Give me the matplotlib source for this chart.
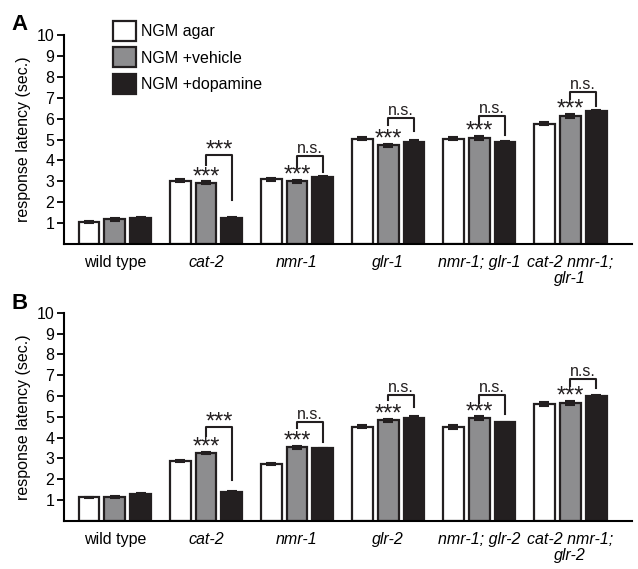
import matplotlib
matplotlib.use("Agg")
import matplotlib.pyplot as plt
import numpy as np

plt.rcParams['font.family'] = ['Liberation Sans', 'DejaVu Sans']

series_names = ["NGM agar", "NGM +vehicle", "NGM +dopamine"]

cats_A = ["wild type", "cat-2", "nmr-1", "glr-1", "nmr-1; glr-1", "cat-2 nmr-1;\nglr-1"]
agar_A = [1.05, 3.04, 3.09, 5.05, 5.05, 5.76]
vehicle_A = [1.18, 2.93, 3.00, 4.72, 5.07, 6.14]
dopamine_A = [1.24, 1.27, 3.20, 4.90, 4.90, 6.35]
err_A = [[0.05, 0.06, 0.06, 0.08, 0.09, 0.08],
         [0.06, 0.07, 0.07, 0.08, 0.09, 0.09],
         [0.04, 0.04, 0.04, 0.07, 0.05, 0.05]]
sig2_A = ["***", "n.s.", "n.s.", "n.s.", "n.s."]

cats_B = ["wild type", "cat-2", "nmr-1", "glr-2", "nmr-1; glr-2", "cat-2 nmr-1;\nglr-2"]
agar_B = [1.12, 2.88, 2.73, 4.52, 4.52, 5.62]
vehicle_B = [1.12, 3.26, 3.53, 4.83, 4.93, 5.66]
dopamine_B = [1.30, 1.37, 3.48, 4.96, 4.73, 6.00]
err_B = [[0.04, 0.04, 0.07, 0.07, 0.09, 0.08],
         [0.05, 0.06, 0.07, 0.07, 0.09, 0.09],
         [0.03, 0.04, 0.04, 0.06, 0.04, 0.05]]
sig2_B = ["***", "n.s.", "n.s.", "n.s.", "n.s."]

# annotation geometry (bracket top, left-leg end, right-leg end)
brk_A = [(4.26, 3.78, 2.10), (4.22, 3.70, 3.45), (6.04, 5.70, 5.40), (6.12, 5.80, 5.20), (7.27, 6.94, 6.60)]
brk_B = [(4.49, 4.09, 1.97), (4.73, 4.47, 3.80), (6.05, 5.80, 5.48), (6.05, 5.68, 5.15), (6.80, 6.47, 6.40)]

colors = ["white", "#8d8d8f", "#231f20"]
W = 0.23
OFF = 0.285
INK = "#231f20"


def draw(ax, cats, vals, errs, sig2, brk, italic_mask):
    x = np.arange(len(cats))
    for i, (v, e, c) in enumerate(zip(vals, errs, colors)):
        ax.bar(x + (i - 1) * OFF, v, W, color=c, edgecolor=INK, linewidth=1.6,
               yerr=e, error_kw=dict(ecolor=INK, elinewidth=2.5, capsize=3.5, capthick=1.5),
               label=series_names[i], zorder=2)
    ax.set_xlim(-0.56, 5.68)
    ax.set_ylim(0, 10)
    ax.set_yticks(range(1, 11))
    ax.tick_params(axis='y', labelsize=11.5, length=5, width=1.3, direction='out', pad=2)
    ax.set_xticks(x)
    ax.set_xticklabels(cats, fontsize=11.5, linespacing=1.1)
    for lbl, it in zip(ax.get_xticklabels(), italic_mask):
        if it:
            lbl.set_style('italic')
    ax.tick_params(axis='x', length=0, pad=8)
    ax.spines['top'].set_visible(False)
    ax.spines['right'].set_visible(False)
    ax.spines['left'].set_linewidth(1.5)
    ax.spines['bottom'].set_linewidth(1.5)
    ax.set_ylabel("response latency (sec.)", fontsize=11.5, labelpad=4)
    for g in range(1, 6):
        # '***' above vehicle bar
        yv = vals[1][g] + errs[1][g] - 0.08
        ax.text(g, yv, "***", ha='center', va='baseline', fontsize=17, color=INK)
        top, le, re = brk[g - 1]
        xl = g
        xr = g + OFF
        ax.plot([xl, xl, xr, xr], [le, top, top, re], color=INK, lw=1.5, zorder=3)
        s = sig2[g - 1]
        if s == "***":
            ax.text((xl + xr) / 2, top - 0.05, s, ha='center', va='baseline', fontsize=17, color=INK)
        else:
            ax.text((xl + xr) / 2, top + 0.15, s, ha='center', va='baseline', fontsize=11.5, color=INK)


fig = plt.figure(figsize=(6.38, 5.69), dpi=100)
axA = fig.add_axes([0.1003, 0.571, 0.8903, 0.3675])
axB = fig.add_axes([0.1003, 0.0849, 0.8903, 0.3651])
ital = [False, True, True, True, True, True]
draw(axA, cats_A, [agar_A, vehicle_A, dopamine_A], err_A, sig2_A, brk_A, ital)
draw(axB, cats_B, [agar_B, vehicle_B, dopamine_B], err_B, sig2_B, brk_B, ital)

leg = axA.legend(loc='upper left', bbox_to_anchor=(0.075, 1.097), frameon=False, fontsize=11.5,
                 handlelength=1.45, handleheight=1.55, handletextpad=0.3, labelspacing=0.4,
                 borderaxespad=0)

fig.text(0.018, 0.975, "A", fontsize=16, fontweight='bold', va='top', ha='left')
fig.text(0.018, 0.485, "B", fontsize=16, fontweight='bold', va='top', ha='left')

fig.savefig("out.png", dpi=100)
